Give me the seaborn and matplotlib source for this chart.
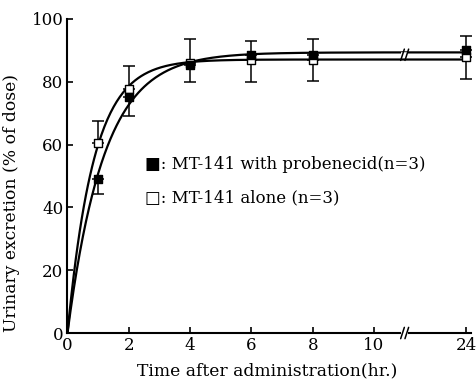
import numpy as np
import pandas as pd
import matplotlib
matplotlib.use("Agg")
import matplotlib.pyplot as plt
import seaborn as sns

# ---- data ----
time_h = [0, 1, 2, 4, 6, 8, 24]
with_probenecid = [0, 49.0, 75.0, 85.5, 88.6, 88.6, 90.0]
with_probenecid_err_low = [0, 4.7, 5.8, 5.5, 8.6, 8.4, 9.0]
alone = [0, 60.5, 77.8, 86.0, 86.8, 87.0, 88.0]
alone_err_up = [0, 7.0, 7.2, 7.7, 6.2, 6.7, 6.5]
tick_times = [0, 2, 4, 6, 8, 10, 24]
tick_labels = ["0", "2", "4", "6", "8", "10", "24"]
label_filled = "■: MT-141 with probenecid(n=3)"
label_open = "□: MT-141 alone (n=3)"

# broken axis: 0-10 linear, 24 placed after a break
def pos(t):
    return np.interp(t, [0, 10, 24], [0, 10, 13])

def fit(t, y):
    t = np.asarray(t, float); y = np.asarray(y, float)
    best = None
    for k in np.linspace(0.05, 3, 2000):
        f = 1 - np.exp(-k * t)
        A = (f * y).sum() / (f * f).sum()
        r = ((A * f - y) ** 2).sum()
        if best is None or r < best[0]:
            best = (r, A, k)
    return best[1], best[2]

sns.set_style("ticks")
plt.rcParams['font.family'] = ['DejaVu Serif']
for key in ("text.color", "axes.labelcolor", "xtick.color", "ytick.color", "axes.edgecolor"):
    plt.rcParams[key] = "black"

fig = plt.figure(figsize=(4.77, 3.87), dpi=100)
ax = fig.add_axes([0.1415, 0.1395, 0.845, 0.8115])

tt = np.concatenate([np.linspace(0, 10, 300), np.linspace(10, 24, 50)])
for y in (with_probenecid, alone):
    A, k = fit(time_h, y)
    df = pd.DataFrame({"x": pos(tt), "y": A * (1 - np.exp(-k * tt))})
    sns.lineplot(data=df, x="x", y="y", ax=ax, color="black", lw=1.6, sort=False, estimator=None)

xp = pos(np.array(time_h, float))
ax.errorbar(xp[1:], np.array(alone)[1:], yerr=[np.zeros(6), np.array(alone_err_up)[1:]],
            fmt="none", ecolor="black", elinewidth=1.1, capsize=4, capthick=1.1, zorder=3)
ax.errorbar(xp[1:], np.array(with_probenecid)[1:], yerr=[np.array(with_probenecid_err_low)[1:], np.zeros(6)],
            fmt="none", ecolor="black", elinewidth=1.1, capsize=4, capthick=1.1, zorder=3)
sns.scatterplot(x=xp[1:], y=np.array(alone)[1:], ax=ax, marker="s", s=34, color="white",
                edgecolor="black", linewidth=1.0, zorder=5)
sns.scatterplot(x=xp[1:], y=np.array(with_probenecid)[1:], ax=ax, marker="s", s=34, color="black",
                edgecolor="black", linewidth=1.0, zorder=6)

ax.set_xlim(0, 13.15)
ax.set_ylim(0, 100)
ax.set_xticks(pos(np.array(tick_times, float)))
ax.set_xticklabels(tick_labels)
ax.set_yticks([0, 20, 40, 60, 80, 100])
ax.tick_params(direction="in", length=4, width=1.2, labelsize=12)
ax.tick_params(axis="x", pad=3)
ax.tick_params(axis="y", pad=3)
for s in ("top", "right"):
    ax.spines[s].set_visible(False)
for s in ("left", "bottom"):
    ax.spines[s].set_linewidth(1.5)

# break marks on axis and curve
bx = 11.0
for yb in (0, 88.6):
    ax.plot([bx - 0.12, bx + 0.12], [yb, yb], color="white", lw=4, solid_capstyle="butt",
            zorder=7, clip_on=False)
    for dx in (-0.07, 0.07):
        ax.plot([bx + dx - 0.06, bx + dx + 0.06], [yb - 1.8, yb + 1.8], color="black", lw=1.1,
                zorder=8, clip_on=False)

ax.set_xlabel("Time after administration(hr.)", fontsize=12.3)
ax.xaxis.set_label_coords(0.495, -0.093)
ax.set_ylabel("Urinary excretion (% of dose)", fontsize=12.3)
ax.yaxis.set_label_coords(-0.118, 0.414)

ax.text(2.52, 53.5, label_filled, fontsize=12, va="center", ha="left",
        family=['DejaVu Serif', 'DejaVu Sans'])
ax.text(2.52, 43.0, label_open, fontsize=12, va="center", ha="left",
        family=['DejaVu Serif', 'DejaVu Sans'])

fig.savefig("out.png", dpi=100)
